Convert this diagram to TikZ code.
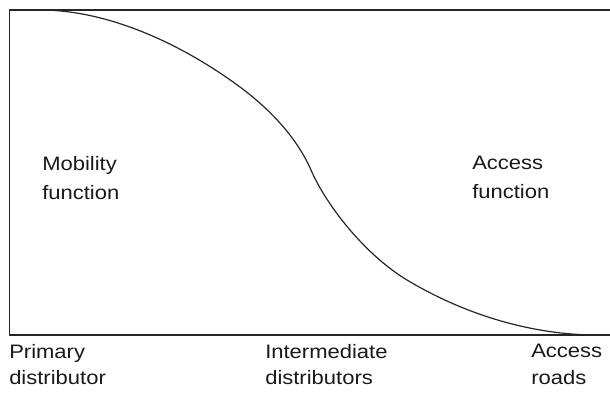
\documentclass[tikz,border=0pt]{standalone}
\usepackage{fontspec}
\setmainfont{Liberation Sans}[FakeStretch=1.13]
\usepackage{tikz}

\begin{document}
\begin{tikzpicture}[x=0.75pt, y=-0.75pt, line join=round,
    label/.style={anchor=north west, inner sep=0pt, align=left,
        font=\fontsize{14.6pt}{21.75pt}\selectfont, text=black!90}]
    \useasboundingbox (0, 0) rectangle (610, 399);

    \coordinate (TL) at (9.5, 10);
    \coordinate (TR) at (610, 10);
    \coordinate (BL) at (9.5, 335);
    \coordinate (BR) at (610, 335);
    \coordinate (S) at (40, 10);
    \coordinate (A) at (240, 87);
    \coordinate (X) at (311, 170);
    \coordinate (B) at (407, 280);
    \coordinate (E) at (597, 335);

    % Frame (open on the right)
    \draw[line width=1.1pt, black!85] (TR) -- (TL) -- (BL) -- (BR);

    % Mobility/access curve
    \draw[line width=0.9pt, black!85] (S)
        .. controls (110, 10) and (183.7, 45.4) .. (A)
        .. controls (268.9, 108.4) and (296.6, 137) .. (X)
        .. controls (327, 206.7) and (365.9, 255.3) .. (B)
        .. controls (463.6, 314) and (531, 335) .. (E);

    % Function labels
    \node[label] (mob) at (42, 156) {Mobility\\function};
    \node[label] (acc) at (472, 156) {Access\\function};

    % Road hierarchy labels
    \node[label, font=\fontsize{14.6pt}{19.9pt}\selectfont] (prim) at (9, 344) {Primary\\distributor};
    \node[label, font=\fontsize{14.6pt}{19.9pt}\selectfont] (inter) at (265, 344) {Intermediate\\distributors};
    \node[label, font=\fontsize{14.6pt}{19.9pt}\selectfont] (road) at (531, 344) {Access\\roads};
\end{tikzpicture}
\end{document}
